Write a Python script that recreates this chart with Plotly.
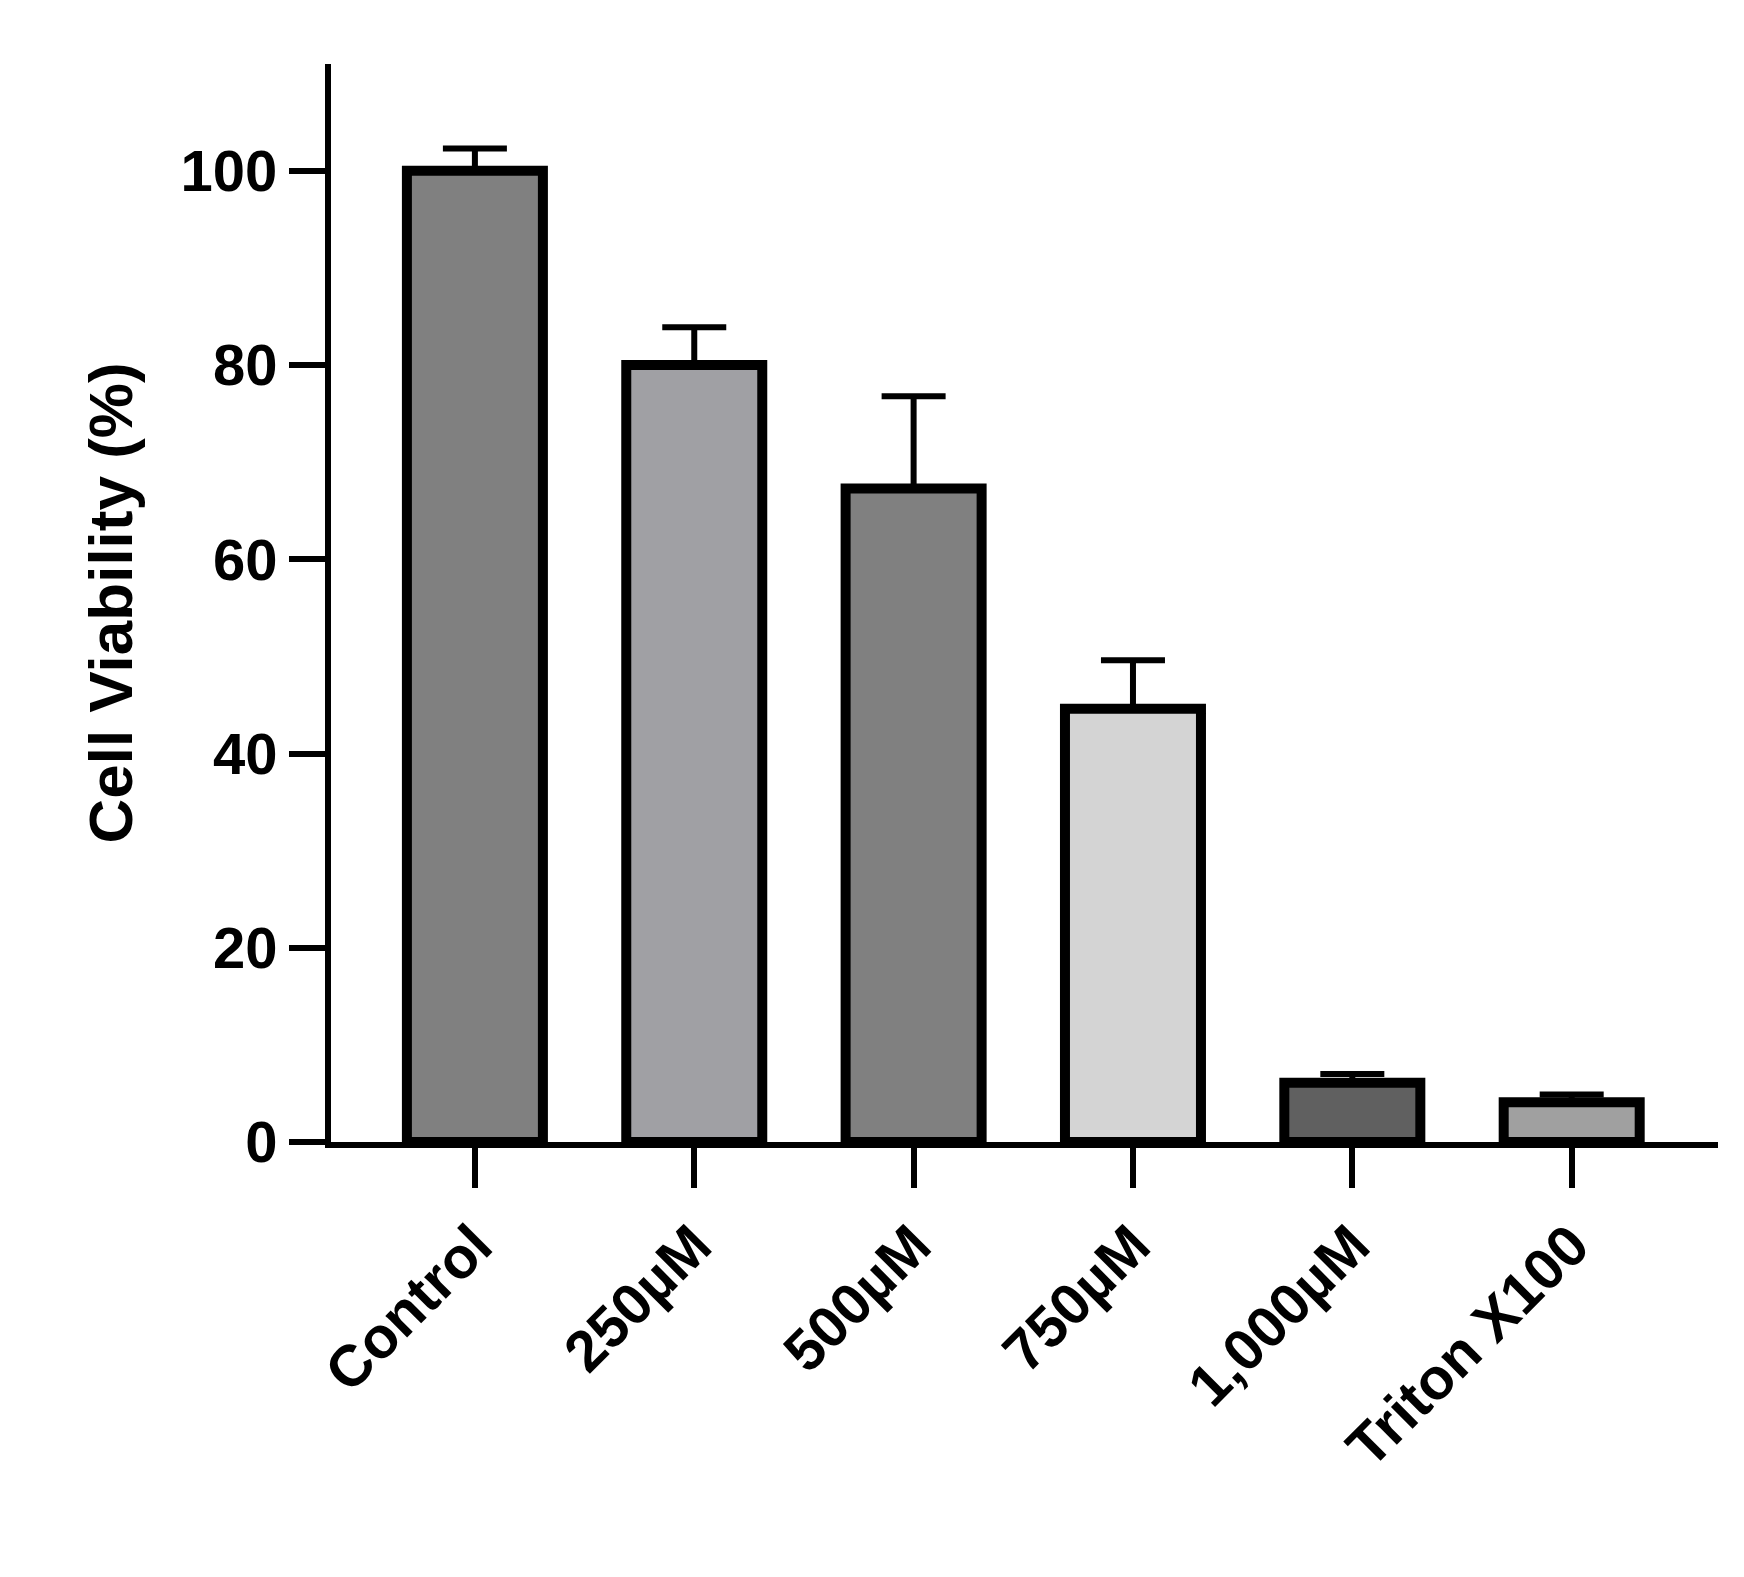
import plotly.graph_objects as go

categories = ['Control', '250µM', '500µM', '750µM', '1,000µM', 'Triton X100']
viability = [100.0, 80.0, 67.3, 44.6, 6.1, 4.1]
err_up = [2.3, 3.9, 9.5, 5.0, 0.9, 0.8]
colors = ['#808080', '#a0a0a4', '#808080', '#d4d4d4', '#606060', '#a0a0a0']

fig = go.Figure()
fig.add_trace(go.Bar(
    x=list(range(len(categories))), y=viability,
    width=0.62,
    marker=dict(color=colors, line=dict(color='black', width=10)),
    error_y=dict(type='data', symmetric=False, array=err_up,
                 arrayminus=[0] * len(err_up),
                 color='black', thickness=6, width=32),
))

font = dict(family='Liberation Sans, Arial', size=58, color='black')
fig.update_layout(
    width=1744, height=1577,
    margin=dict(l=323, r=34, t=56, b=443),
    paper_bgcolor='white', plot_bgcolor='white',
    showlegend=False,
    font=font,
    xaxis=dict(
        range=[-0.656, 5.667],
        tickmode='array', tickvals=list(range(len(categories))),
        ticktext=['<b>%s</b>' % c for c in categories],
        tickangle=-45, ticks='outside', ticklen=40, tickwidth=6,
        tickcolor='black', showline=True, linecolor='black', linewidth=6,
        showgrid=False, zeroline=False,
    ),
    yaxis=dict(
        range=[0, 111], tickvals=[0, 20, 40, 60, 80, 100],
        ticktext=['<b>%d</b>' % v for v in [0, 20, 40, 60, 80, 100]],
        ticks='outside', ticklen=36, tickwidth=6, tickcolor='black',
        showline=True, linecolor='black', linewidth=6,
        showgrid=False, zeroline=False,
        title=dict(text='<b>Cell Viability (%)</b>', font=dict(size=62), standoff=30),
    ),
)

fig.write_html('out.html')
